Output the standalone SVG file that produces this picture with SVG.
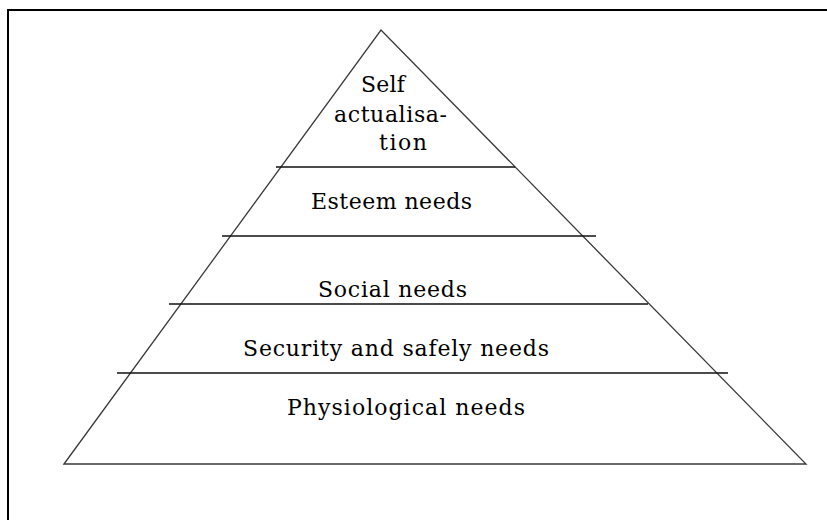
<svg xmlns="http://www.w3.org/2000/svg" width="827" height="520" viewBox="0 0 827 520">
<style>
.frame{fill:none;stroke:#000;stroke-width:2}
.side{fill:none;stroke:#3a3a3a;stroke-width:1.3}
.sep{stroke:#111;stroke-width:1.6}
.lbl{font-family:'DejaVu Serif','Liberation Serif',serif;font-size:22px;fill:#000}
</style>
<rect width="827" height="520" fill="#fff"/>
<path class="frame" d="M8,521 V10 H828"/>
<g id="connectors">
<path class="side" d="M64,464 L381,30 L806,464 Z"/>
<line class="sep" x1="276" y1="167" x2="515" y2="167"/>
<line class="sep" x1="222" y1="236" x2="596" y2="236"/>
<line class="sep" x1="169" y1="304" x2="648" y2="304"/>
<line class="sep" x1="117" y1="373" x2="728" y2="373"/>
</g>
<g id="self-actualisation">
<text class="lbl" x="361" y="92" textLength="44" lengthAdjust="spacing">Self</text>
<text class="lbl" x="334" y="122" textLength="113" lengthAdjust="spacing">actualisa-</text>
<text class="lbl" x="379" y="150" textLength="48" lengthAdjust="spacing">tion</text>
</g>
<g id="esteem">
<text class="lbl" x="311" y="209" textLength="161" lengthAdjust="spacing">Esteem needs</text>
</g>
<g id="social">
<text class="lbl" x="318" y="297" textLength="149" lengthAdjust="spacing">Social needs</text>
</g>
<g id="security">
<text class="lbl" x="243" y="356" textLength="306" lengthAdjust="spacing">Security and safely needs</text>
</g>
<g id="physiological">
<text class="lbl" x="287" y="415" textLength="238" lengthAdjust="spacing">Physiological needs</text>
</g>
</svg>
